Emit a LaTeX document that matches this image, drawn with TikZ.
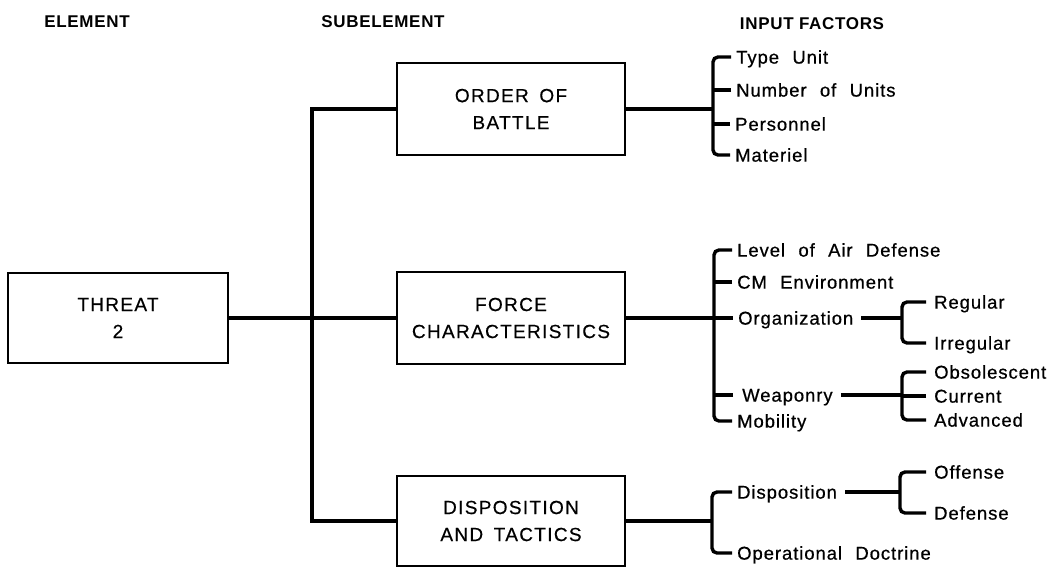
\documentclass[tikz,border=0pt]{standalone}
\usepackage{fontspec}
\setmainfont{Liberation Sans}
\newfontfamily\itemfont[LetterSpace=5,WordSpace=2.2,FakeBold=0.6]{Liberation Sans}
\newfontfamily\boxfont[LetterSpace=7,WordSpace=1.6,FakeBold=0.5]{Liberation Sans}
\newfontfamily\hdrfont[LetterSpace=4]{Liberation Sans}
\begin{document}
\begin{tikzpicture}[x=1pt,y=-1pt,
  conn/.style={line width=3.4pt},
  brk/.style={line width=3.4pt, rounded corners=5pt},
  box/.style={draw, line width=2.2pt, minimum width=228pt, minimum height=92pt, align=center, inner sep=0pt, font=\boxfont\fontsize{19}{27}\selectfont},
  item/.style={anchor=west, inner xsep=0pt, inner ysep=0pt, text height=13.2pt, text depth=0pt, font=\itemfont\fontsize{18.5}{20}\selectfont},
  hdr/.style={inner sep=0pt, font=\hdrfont\bfseries\fontsize{17}{19}\selectfont}]
\useasboundingbox[fill=white] (0,0) rectangle (1052,574);

% headers
\node[hdr] (hEl) at (87,22) {ELEMENT};
\node[hdr] (hSub) at (383,22) {SUBELEMENT};
\node[hdr] (hIn) at (812,24) {INPUT FACTORS};

% element and subelements
\node[box, minimum width=220pt, minimum height=90pt] (threat) at (118,318) {THREAT\\2};
\node[box] (order) at (511,109) {ORDER OF\\BATTLE};
\node[box] (force) at (511,318) {FORCE\\CHARACTERISTICS};
\node[box, minimum height=90pt] (disp) at (511,521) {DISPOSITION\\AND TACTICS};

% trunk
\coordinate (tTop) at (312,109);
\coordinate (tBot) at (312,521);
\draw[conn] (order.west) -- (tTop) -- (tBot) -- (disp.west);
\draw[conn] (threat.east) -- (force.west);

% order of battle factors
\node[item] (tu) at (736,57) {Type Unit};
\node[item] (nu) at (736,90) {Number of Units};
\node[item] (pe) at (735,124) {Personnel};
\node[item] (mat) at (735,155) {Materiel};
\coordinate (ob) at (713,109);
\draw[conn] (order.east) -- (ob);
\draw[brk] ([xshift=-5pt]tu.west) -| (ob) |- ([xshift=-5pt]mat.west);
\draw[conn] ([xshift=-5pt]nu.west) -- (nu.west -| ob);
\draw[conn] ([xshift=-5pt]pe.west) -- (pe.west -| ob);

% force characteristics factors
\node[item] (lev) at (737,250) {Level of Air Defense};
\node[item] (cm) at (737,282) {CM Environment};
\node[item] (org) at (738,318) {Organization};
\node[item] (weap) at (742,395) {Weaponry};
\node[item] (mob) at (737,421) {Mobility};
\coordinate (fb) at (714,318);
\draw[conn] (force.east) -- (fb) -- ([xshift=-5pt]org.west);
\draw[brk] ([xshift=-5pt]lev.west) -| (fb) |- ([xshift=-5pt]mob.west);
\draw[conn] ([xshift=-5pt]cm.west) -- (cm.west -| fb);
\draw[conn] ([xshift=-9pt]weap.west) -- (weap.west -| fb);

% organization
\node[item] (reg) at (934,302) {Regular};
\node[item] (irr) at (934,343) {Irregular};
\coordinate (ogb) at (902,318);
\draw[conn] ([xshift=8pt]org.east) -- (ogb);
\draw[brk] ([xshift=-8pt]reg.west) -| (ogb) |- ([xshift=-8pt]irr.west);

% weaponry
\node[item] (obs) at (934,372) {Obsolescent};
\node[item] (cur) at (934,396) {Current};
\node[item] (adv) at (934,420) {Advanced};
\coordinate (wb) at (902,395);
\draw[conn] ([xshift=8pt]weap.east) -- (wb);
\draw[brk] ([xshift=-8pt]obs.west) -| (wb) |- ([xshift=-8pt]adv.west);
\draw[conn] ([xshift=-8pt]cur.west) -- (cur.west -| wb);

% disposition and tactics factors
\node[item] (dsp) at (737,492) {Disposition};
\node[item] (opd) at (737,553) {Operational Doctrine};
\coordinate (db) at (712,521);
\draw[conn] (disp.east) -- (db);
\draw[brk] ([xshift=-5pt]dsp.west) -| (db) |- ([xshift=-5pt]opd.west);

% disposition
\node[item] (off) at (934,472) {Offense};
\node[item] (def) at (934,513) {Defense};
\coordinate (dsb) at (900,492);
\draw[conn] ([xshift=8pt]dsp.east) -- (dsb);
\draw[brk] ([xshift=-8pt]off.west) -| (dsb) |- ([xshift=-8pt]def.west);
\end{tikzpicture}
\end{document}
